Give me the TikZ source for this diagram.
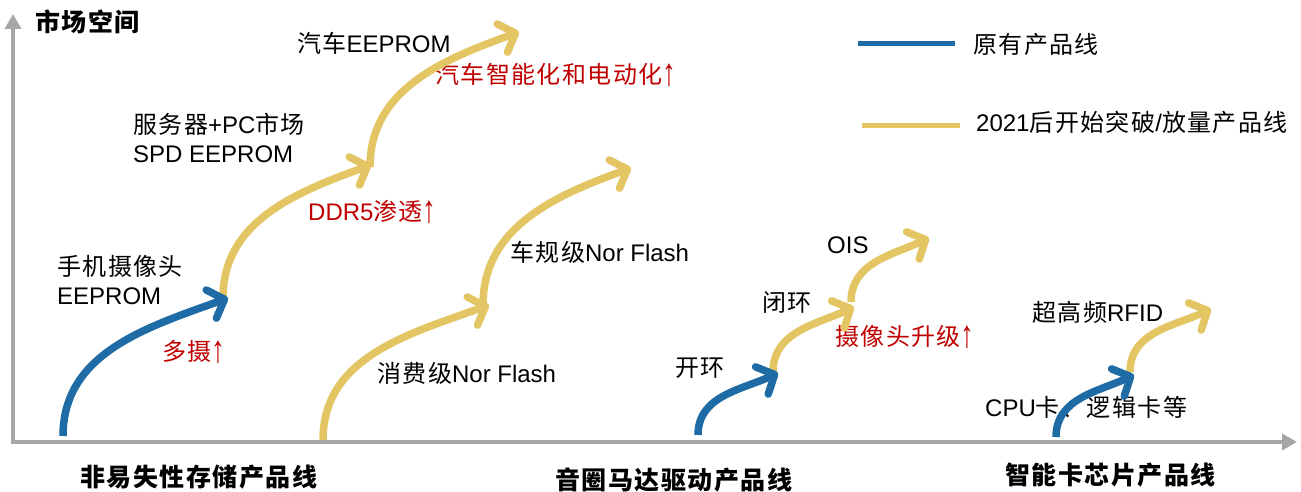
\documentclass[tikz,border=0pt]{standalone}
\usepackage{fontspec}
\setmainfont{Liberation Sans}
\newfontfamily\cjk[LetterSpace=6]{Noto Sans CJK SC}
\usetikzlibrary{arrows.meta}
\definecolor{bl}{HTML}{1E6BA5}
\definecolor{yl}{HTML}{E3C563}
\definecolor{rd}{HTML}{C00000}
\definecolor{ax}{HTML}{A6A6A6}
\newcommand{\C}[1]{{\cjk #1}}
\newcommand{\upar}{\raisebox{-2pt}{\scalebox{1.15}[1.6]{↑}}}
\begin{document}
\begin{tikzpicture}[x=1pt,y=1pt,
  lbl/.style={anchor=west,inner sep=0pt,align=left,font=\fontsize{24}{29}\selectfont},
  redlbl/.style={lbl,text=rd},
  boldlbl/.style={anchor=west,inner sep=0pt,font=\fontsize{25}{30}\selectfont\cjk\bfseries},
  axisline/.style={draw=ax,line width=4pt,{Triangle[length=15pt,width=16pt]}-{Triangle[length=15pt,width=16pt]}},
  curve/.style={line width=7.5pt,-{Straight Barb[length=14pt,width=30pt,round]}},
  bcurve/.style={curve,draw=bl},
  ycurve/.style={curve,draw=yl},
  legline/.style={line width=5pt}
]
\useasboundingbox (0,0) rectangle (1301,492);
\fill[white] (0,0) rectangle (1301,492);

% axes
\coordinate (ytop) at (13,478);
\coordinate (orig) at (13,50);
\coordinate (xend) at (1297,50);
\draw[axisline] (ytop) -- (orig) -- (xend);

% labels
\node[boldlbl] (yname) at (35,470) {市场空间};
\node[lbl] (carE) at (297,449) {\C{汽车}EEPROM};
\node[redlbl] (carR) at (435,417) {\C{汽车智能化和电动化}\upar};
\node[lbl] (spd) at (133,354) {\C{服务器}+PC\C{市场}\\SPD EEPROM};
\node[redlbl] (ddr) at (308,280) {DDR5\C{渗透}\upar};
\node[lbl] (cam) at (57,212) {\C{手机摄像头}\\EEPROM};
\node[redlbl] (multi) at (162,140) {\C{多摄}\upar};
\node[lbl] (carNor) at (510,240) {\C{车规级}Nor Flash};
\node[lbl] (conNor) at (377,119) {\C{消费级}Nor Flash};
\node[lbl] (open) at (675,124) {\C{开环}};
\node[lbl] (closed) at (762,189) {\C{闭环}};
\node[lbl] (ois) at (827,247) {OIS};
\node[redlbl] (camup) at (835,155) {\C{摄像头升级}\upar};
\node[lbl] (rfid) at (1032,180) {\C{超高频}RFID};
\node[lbl] (cpu) at (985,85) {CPU\C{卡、逻辑卡等}};
\node[boldlbl] (g1) at (80,15) {非易失性存储产品线};
\node[boldlbl] (g2) at (555,12) {音圈马达驱动产品线};
\node[boldlbl] (g3) at (1005,17) {智能卡芯片产品线};

% legend
\coordinate (lb1) at (858,448);
\coordinate (lb2) at (955,448);
\coordinate (ly1) at (862,366);
\coordinate (ly2) at (960,366);
\draw[legline,draw=bl] (lb1) -- (lb2);
\draw[legline,draw=yl] (ly1) -- (ly2);
\node[lbl] (legB) at (973,448) {\C{原有产品线}};
\node[lbl] (legY) at (976,370) {2021\C{后开始突破}/\C{放量产品线}};

% curve points
\coordinate (b1s) at (63,56);   \coordinate (b1e) at (228,194);
\coordinate (y2s) at (223,194); \coordinate (y2e) at (371,327);
\coordinate (y3s) at (370,325); \coordinate (y3e) at (519,460);
\coordinate (y4s) at (323,52);  \coordinate (y4e) at (489,187);
\coordinate (y5s) at (483,187); \coordinate (y5e) at (631,324);
\coordinate (b6s) at (698,57);  \coordinate (b6e) at (778,119);
\coordinate (y7s) at (773,120); \coordinate (y7e) at (854,185);
\coordinate (y8s) at (851,190); \coordinate (y8e) at (929,254);
\coordinate (b9s) at (1056,55); \coordinate (b9e) at (1134,117);
\coordinate (y10s) at (1130,120); \coordinate (y10e) at (1211,183);

\draw[ycurve] (y2s) to[out=90,in=200] (y2e);
\draw[ycurve] (y3s) to[out=90,in=200] (y3e);
\draw[bcurve] (b1s) to[out=90,in=200] (b1e);
\draw[ycurve] (y4s) to[out=90,in=200] (y4e);
\draw[ycurve] (y5s) to[out=90,in=200] (y5e);
\draw[ycurve] (y7s) to[out=90,in=205] (y7e);
\draw[ycurve] (y8s) to[out=90,in=205] (y8e);
\draw[bcurve] (b6s) to[out=90,in=205] (b6e);
\draw[ycurve] (y10s) to[out=90,in=205] (y10e);
\draw[bcurve] (b9s) to[out=90,in=205] (b9e);
\end{tikzpicture}
\end{document}
